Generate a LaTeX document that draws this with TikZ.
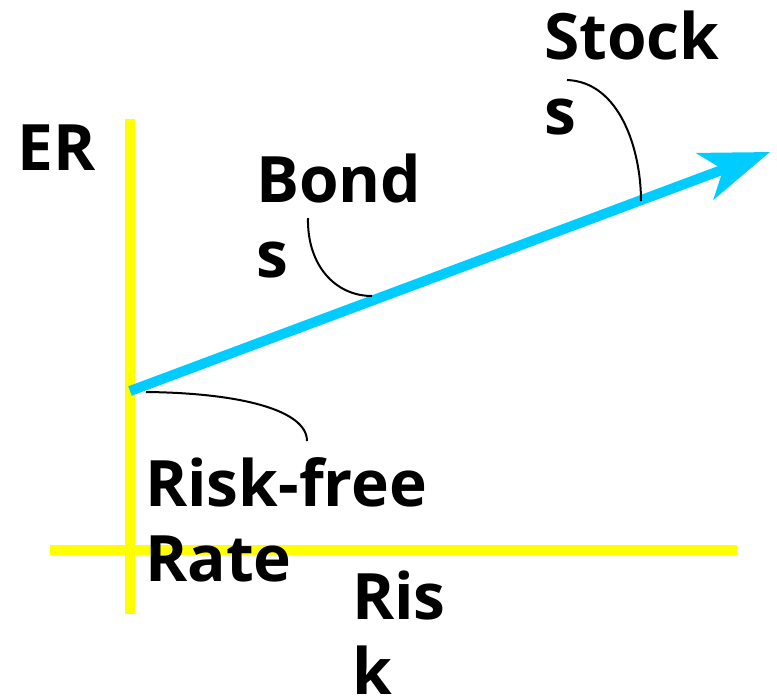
\documentclass[tikz,border=0pt]{standalone}
\usepackage{fontspec}
\setmainfont{Open Sans}
\usetikzlibrary{arrows.meta}
\definecolor{axisyellow}{HTML}{FFFF00}
\definecolor{lineblue}{HTML}{00CCFF}
\tikzset{
  lbl/.style={font=\bfseries\fontsize{64}{75}\selectfont, inner sep=0pt, align=left, anchor=base west},
  axisline/.style={draw=axisyellow, line width=10pt},
  cml/.style={draw=lineblue, line width=10pt, -{Stealth[length=69pt, width=49pt, inset=19pt]}},
  callout/.style={draw=black, line width=2pt}
}
\begin{document}
\begin{tikzpicture}[x=1pt,y=-1pt]
\useasboundingbox (0,0) rectangle (777,696);
% axes
\coordinate (yTop) at (130,119);
\coordinate (yBot) at (130,614);
\coordinate (xL) at (50,550);
\coordinate (xR) at (737,550);
\draw[axisline] (yTop) -- (yBot);
\draw[axisline] (xL) -- (xR);
% capital market line
\coordinate (rf) at (130,391);
\coordinate (tip) at (770,152);
\draw[cml] (rf) -- (tip);
% labels (anchored at the baseline of the last line)
\node[lbl] (er) at (17,170) {ER};
\node[lbl] (stocks) at (544,134) {Stock\\s};
\node[lbl] (bonds) at (256,277) {Bond\\s};
\node[lbl] (rfr) at (145,581) {Risk-free\\Rate};
\node[lbl] (risk) at (352,694) {Ris\\k};
% callouts
\coordinate (sA) at (567,80);
\coordinate (sB) at (641,201);
\coordinate (bA) at (308,218);
\coordinate (bB) at (372,296);
\coordinate (rA) at (146,392);
\coordinate (rB) at (307,441);
\draw[callout] (sA) .. controls (620,82) and (641,150) .. (sB);
\draw[callout] (bA) .. controls (307,265) and (335,296) .. (bB);
\draw[callout] (rA) .. controls (240,393) and (307,410) .. (rB);
\end{tikzpicture}
\end{document}
